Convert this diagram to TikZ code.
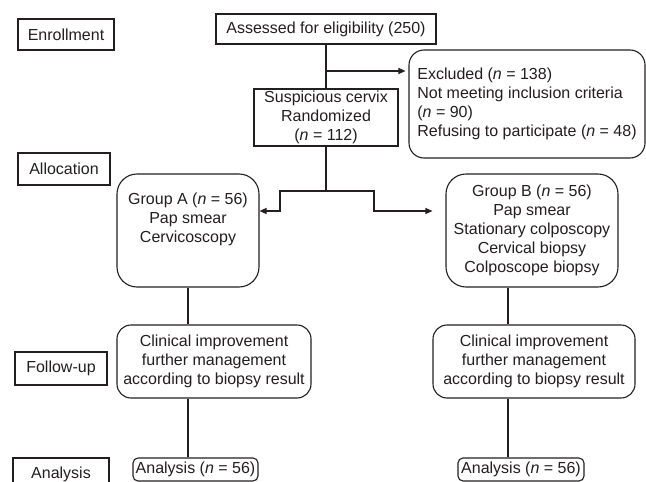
\documentclass[tikz,border=0pt]{standalone}
\usepackage{fontspec}
\setmainfont{Liberation Sans}
\usetikzlibrary{arrows.meta}
\definecolor{ink}{RGB}{35,31,32}
\begin{document}
\begin{tikzpicture}[x=1pt,y=-1pt,
  every node/.style={font=\fontsize{16}{19}\selectfont, text=ink},
  box/.style={draw=ink, line width=1.1pt, inner sep=0pt, align=center},
  rbox/.style={box, rounded corners=#1},
  ln/.style={draw=ink, line width=1.1pt},
  arr/.style={ln, -{Triangle[length=7pt,width=6pt]}}]
\useasboundingbox[fill=white] (0,0) rectangle (646,482);

% stage labels
\node[box, minimum width=96pt, minimum height=31pt] (enr) at (66,34.5) {Enrollment};
\node[box, minimum width=92pt, minimum height=32pt] (alloc) at (64,169) {Allocation};
\node[box, minimum width=92pt, minimum height=33pt] (fol) at (61,368.5) {Follow-up};
\node[box, minimum width=96pt, minimum height=32pt] (anl) at (61,474) {Analysis};

% main flow
\node[box, minimum width=220pt, minimum height=30pt] (assess) at (326,29) {Assessed for eligibility (250)};
\node[rbox=15pt, minimum width=236pt, minimum height=108pt, align=left] (excl) at (527,104)
  {Excluded (\textit{n} = 138)\\Not meeting inclusion criteria\\(\textit{n} = 90)\\Refusing to participate (\textit{n} = 48)};
\node[box, minimum width=144pt, minimum height=57pt] (susp) at (326,117.5)
  {Suspicious cervix\\Randomized\\(\textit{n} = 112)};

\node[rbox=20pt, minimum width=142pt, minimum height=113pt] (grpA) at (188,230.5)
  {Group A (\textit{n} = 56)\\Pap smear\\Cervicoscopy\\\strut};
\node[rbox=20pt, minimum width=172pt, minimum height=113pt] (grpB) at (532,230.5)
  {Group B (\textit{n} = 56)\\Pap smear\\Stationary colposcopy\\Cervical biopsy\\Colposcope biopsy};

\node[rbox=14pt, minimum width=194pt, minimum height=73pt] (fuA) at (214,361.5)
  {Clinical improvement\\further management\\according to biopsy result};
\node[rbox=14pt, minimum width=202pt, minimum height=73pt] (fuB) at (534,361.5)
  {Clinical improvement\\further management\\according to biopsy result};

\node[rbox=5pt, minimum width=125pt, minimum height=23pt] (anaA) at (195.5,469.5) {Analysis (\textit{n} = 56)};
\node[rbox=5pt, minimum width=126pt, minimum height=23pt] (anaB) at (521,469.5) {Analysis (\textit{n} = 56)};

% connectors
\coordinate (j1) at (326,71);
\coordinate (br) at (326,191);
\coordinate (bl) at (280,191);
\coordinate (bR) at (374,191);
\coordinate (al) at (280,211);
\coordinate (ar) at (374,211);
\coordinate (colB) at (508,0);

\draw[ln] (assess.south) -- (susp.north);
\draw[arr] (j1) -- ([xshift=-3pt]excl.west |- j1);
\draw[ln] (susp.south) -- (br);
\draw[arr] (br) -- (bl) -- (al) -- (grpA.east |- al);
\draw[arr] (br) -- (bR) -- (ar) -- ([xshift=-13pt]grpB.west |- ar);

\draw[ln] (grpA.south) -- (grpA.south |- fuA.north);
\draw[ln] (grpA.south |- fuA.south) -- (grpA.south |- anaA.north);
\draw[ln] (colB |- grpB.south) -- (colB |- fuB.north);
\draw[ln] (colB |- fuB.south) -- (colB |- anaB.north);
\end{tikzpicture}
\end{document}
